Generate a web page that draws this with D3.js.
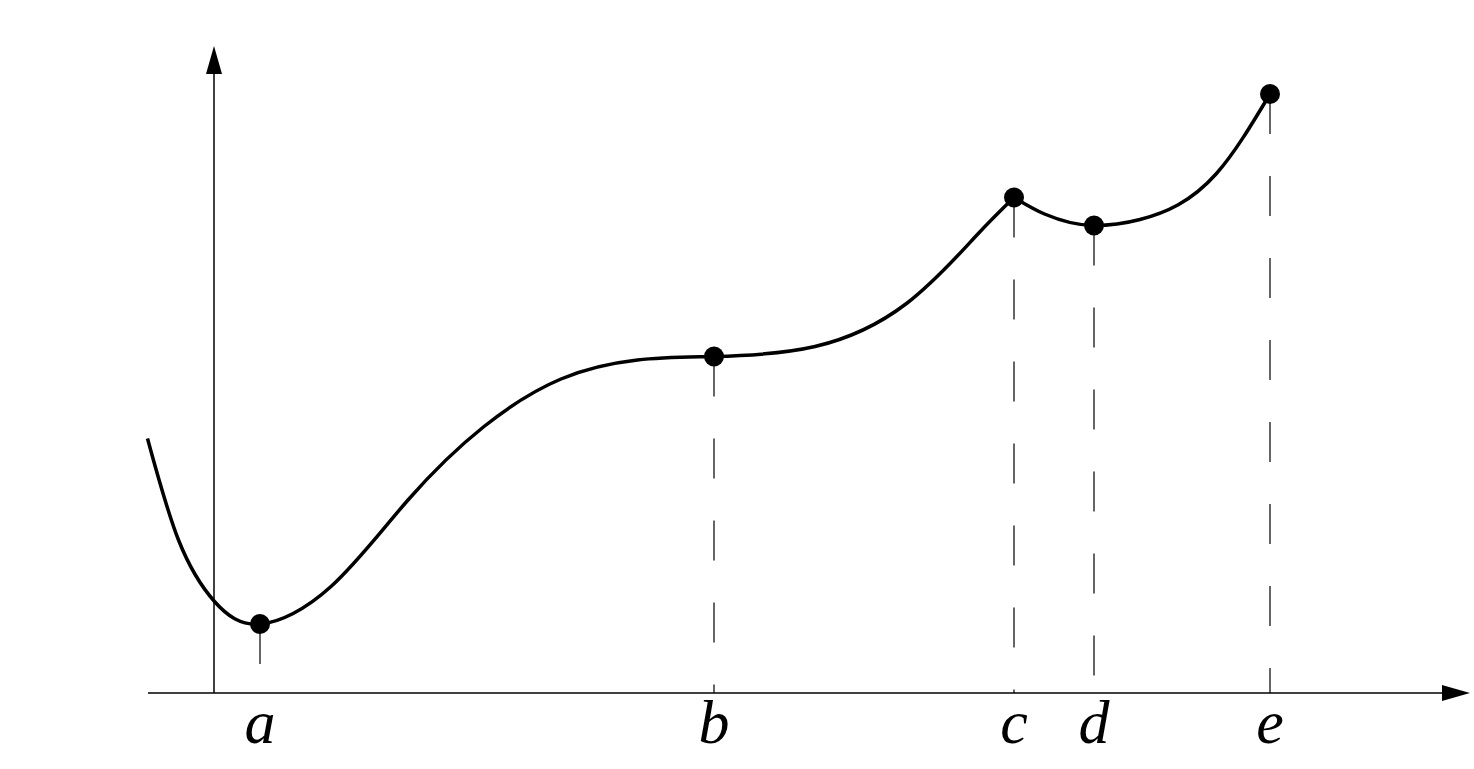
<!DOCTYPE html>
<html>
<head>
<meta charset="utf-8">
<script src="https://cdn.jsdelivr.net/npm/d3@7"></script>
<style>
  body { margin: 0; background: #fff; }
  svg { display: block; }
</style>
</head>
<body>
<div id="graph"></div>
<script>
// curve, first piece runs up to the corner at c
var seg1X = [-1.33, -0.71, 0.01, 0.92, 2.34, 3.88, 5.40, 6.94, 8.47, 10.0, 12.02, 13.85, 15.23, 16.0];
var seg1Y = [5.09, 3.06, 1.83, 1.38, 2.13, 3.86, 5.33, 6.28, 6.66, 6.73, 6.93, 7.79, 9.13, 9.91];
// second piece, from c to e
var seg2X = [16.0, 16.61, 17.6, 18.52, 20.05, 21.12];
var seg2Y = [9.91, 9.58, 9.35, 9.47, 10.39, 11.98];

// marked points and their labels
var markX = [0.92, 10.0, 16.0, 17.6, 21.12];
var markY = [1.38, 6.73, 9.91, 9.35, 11.98];
var markLabels = ["a", "b", "c", "d", "e"];

var width = 1474,
    height = 769;

var svg = d3.select("#graph").append("svg")
    .attr("width", width)
    .attr("height", height);

var x = d3.scaleLinear().domain([0, 25]).range([214, 1464]);
var y = d3.scaleLinear().domain([0, 13]).range([693, 43]);

// axes
svg.append("line")
    .attr("x1", x(-1.32)).attr("x2", x(24.6))
    .attr("y1", y(0)).attr("y2", y(0))
    .attr("stroke", "#000").attr("stroke-width", 1.5);
svg.append("line")
    .attr("x1", x(0)).attr("x2", x(0))
    .attr("y1", y(0)).attr("y2", y(12.5))
    .attr("stroke", "#000").attr("stroke-width", 1.5);

// arrow heads
var xEnd = x(25.12), yTop = y(12.94);
svg.append("path")
    .attr("d", "M" + xEnd + "," + y(0) + "L" + (xEnd - 28) + "," + (y(0) - 8) + "L" + (xEnd - 28) + "," + (y(0) + 8) + "Z")
    .attr("fill", "#000");
svg.append("path")
    .attr("d", "M" + x(0) + "," + yTop + "L" + (x(0) - 8) + "," + (yTop + 28) + "L" + (x(0) + 8) + "," + (yTop + 28) + "Z")
    .attr("fill", "#000");

// dashed drops
svg.append("g")
    .selectAll("line")
    .data(markX)
    .enter()
        .append("line")
        .attr("x1", function(d) { return x(d); })
        .attr("x2", function(d) { return x(d); })
        .attr("y1", function(d, i) { return y(markY[i]); })
        .attr("y2", y(0))
        .attr("stroke", "#000")
        .attr("stroke-width", 1.2)
        .attr("stroke-dasharray", "40,42");

// the curve: natural spline for the long piece, monotone after the corner so it does not dip below d
var line = d3.line()
    .x(function(d) { return x(d[0]); })
    .y(function(d) { return y(d[1]); });

[[d3.zip(seg1X, seg1Y), d3.curveNatural], [d3.zip(seg2X, seg2Y), d3.curveMonotoneX]].forEach(function(seg) {
    svg.append("path")
        .datum(seg[0])
        .attr("d", line.curve(seg[1]))
        .attr("fill", "none")
        .attr("stroke", "#000")
        .attr("stroke-width", 3.5)
        .attr("stroke-linejoin", "round");
});

// dots
svg.append("g")
    .selectAll("circle")
    .data(markX)
    .enter()
        .append("circle")
        .attr("cx", function(d) { return x(d); })
        .attr("cy", function(d, i) { return y(markY[i]); })
        .attr("r", 10)
        .attr("fill", "#000");

// labels
svg.append("g")
    .selectAll("text")
    .data(markLabels)
    .enter()
        .append("text")
        .attr("x", function(d, i) { return x(markX[i]); })
        .attr("y", 743)
        .attr("text-anchor", "middle")
        .attr("font-family", "'Liberation Serif', 'DejaVu Serif', serif")
        .attr("font-style", "italic")
        .attr("font-size", 62)
        .text(function(d) { return d; });
</script>
</body>
</html>
